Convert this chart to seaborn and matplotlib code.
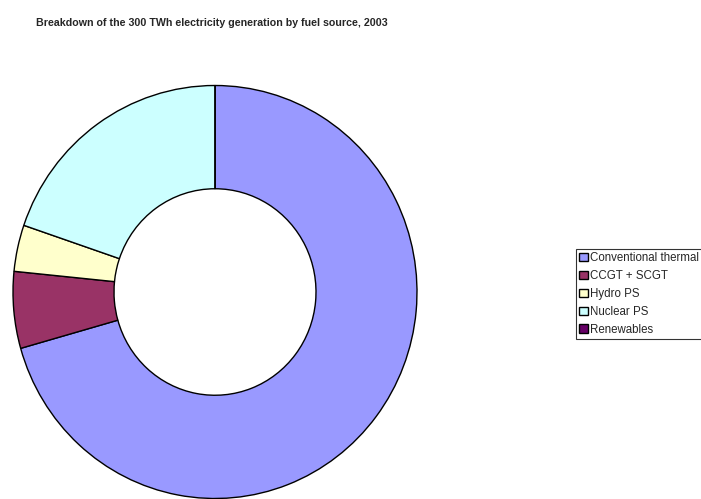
import matplotlib
matplotlib.use("Agg")
import matplotlib.pyplot as plt
import seaborn as sns

sns.set_theme(style="white")
plt.rcParams["font.family"] = ["Liberation Sans", "DejaVu Sans"]

# Electricity generation by fuel source, 2003 (TWh)
sources = ["Conventional thermal", "CCGT + SCGT", "Hydro PS", "Nuclear PS", "Renewables"]
generation_twh = [211.8, 18.0, 10.9, 59.3, 0.0]
colors = ["#9999FF", "#993366", "#FFFFCC", "#CCFFFF", "#660066"]

fig = plt.figure(figsize=(7.01, 4.99), dpi=100)
W, H = 701, 499
cx, cy, rx, ry = 215, 292, 202, 206.5
ax = fig.add_axes([(cx - rx) / W, (H - cy - ry) / H, 2 * rx / W, 2 * ry / H])

wedges, _ = ax.pie(
    generation_twh,
    colors=colors,
    startangle=90,
    counterclock=False,
    radius=1.0,
    wedgeprops=dict(width=0.5, edgecolor="black", linewidth=1.0),
)
ax.set_aspect("auto")
ax.set_xlim(-1.0, 1.0)
ax.set_ylim(-1.0, 1.0)
ax.axis("off")

fig.text(36 / W, 1 - 23 / H,
         "Breakdown of the 300 TWh electricity generation by fuel source, 2003",
         fontsize=7.7, fontweight="bold", ha="left", va="center")

leg = fig.legend(
    wedges, sources,
    loc="upper left",
    bbox_to_anchor=(576 / W, 1 - 249 / H),
    fontsize=8.3,
    frameon=True,
    fancybox=False,
    edgecolor="black",
    handlelength=0.7,
    handleheight=0.7,
    handletextpad=0.25,
    labelspacing=0.5,
    borderpad=0.3,
    borderaxespad=0,
)
leg.get_frame().set_linewidth(0.8)

fig.savefig("out.png", dpi=100)
